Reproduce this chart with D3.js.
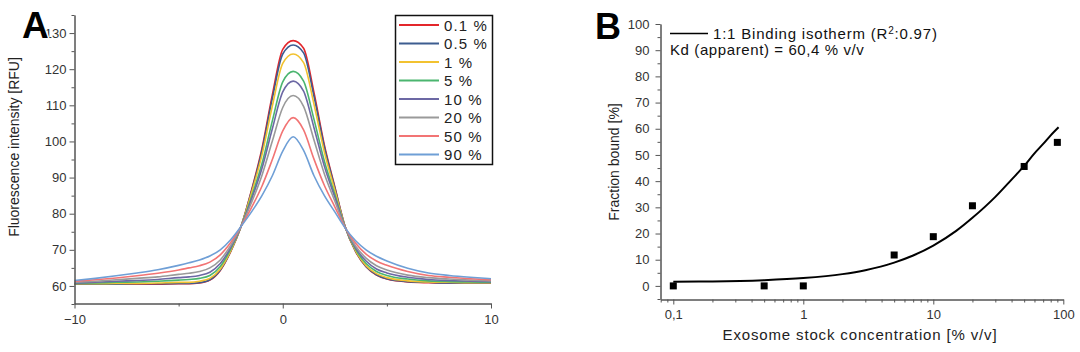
<!DOCTYPE html>
<html>
<head>
<meta charset="utf-8">
<script src="https://cdn.jsdelivr.net/npm/d3@7"></script>
<style>
  html, body { margin: 0; padding: 0; background: #fff; }
  svg { display: block; font-family: "Liberation Sans", Arial, sans-serif; }
  .tick text { fill: #333; font-size: 13px; }
  .domain, .tick line { stroke: #555; }
</style>
</head>
<body>
<svg id="chart" width="1080" height="352"></svg>
<script>
// ---------- Panel A data ----------
const posA = [-10, -9, -8, -7, -6, -5, -4.5, -4, -3.5, -3, -2.5, -2, -1.5, -1, -0.5, 0, 0.5, 1, 1.5, 2, 2.5, 3, 3.5, 4, 4.5, 5, 6, 7, 8, 9, 10];
const s0_1 = [60.5, 60.5, 60.5, 60.5, 60.5, 60.6, 60.6, 60.8, 61.6, 64.3, 69.5, 76.5, 86.5, 98.0, 112.9, 125.5, 127.9, 125.8, 113.5, 99.0, 87.5, 76.3, 69.5, 65.3, 63.0, 61.9, 61.1, 60.9, 60.8, 60.8, 60.8];
const s0_5 = [60.5, 60.5, 60.5, 60.6, 60.6, 60.7, 60.7, 60.9, 61.7, 64.4, 69.6, 76.5, 86.2, 97.4, 111.9, 124.2, 126.7, 124.5, 112.5, 98.4, 87.2, 76.3, 69.6, 65.4, 63.1, 62.0, 61.2, 61.0, 60.8, 60.8, 60.8];
const s1   = [60.6, 60.6, 60.7, 60.7, 60.8, 61.0, 61.0, 61.3, 62.1, 64.7, 69.7, 76.5, 85.7, 96.2, 109.8, 121.6, 124.2, 121.8, 110.3, 97.0, 86.5, 76.3, 69.7, 65.6, 63.4, 62.3, 61.4, 61.1, 61.0, 60.9, 60.9];
const s5   = [60.7, 60.8, 61.0, 61.1, 61.3, 61.6, 61.8, 62.1, 62.9, 65.4, 70.2, 76.5, 84.6, 93.8, 105.7, 116.5, 119.4, 116.7, 106.1, 94.5, 85.3, 76.2, 70.1, 66.2, 64.0, 62.9, 61.9, 61.4, 61.2, 61.1, 61.0];
const s10  = [60.8, 61.0, 61.3, 61.5, 61.8, 62.3, 62.5, 62.9, 63.8, 66.2, 70.6, 76.5, 84.0, 92.5, 103.5, 113.7, 116.7, 113.9, 103.8, 93.1, 84.6, 76.2, 70.5, 66.9, 64.7, 63.6, 62.4, 61.8, 61.5, 61.3, 61.2];
const s20  = [61.0, 61.3, 61.7, 62.1, 62.5, 63.2, 63.5, 64.0, 65.0, 67.2, 71.2, 76.5, 83.1, 90.6, 100.1, 109.4, 112.7, 109.7, 100.4, 91.0, 83.5, 76.1, 71.0, 67.7, 65.6, 64.4, 63.0, 62.3, 61.9, 61.6, 61.4];
const s50  = [61.3, 61.7, 62.2, 62.8, 63.5, 64.4, 65.0, 65.6, 66.6, 68.6, 72.0, 76.5, 81.7, 87.6, 95.0, 102.9, 106.6, 103.2, 95.1, 87.8, 81.9, 76.1, 71.8, 68.8, 66.9, 65.7, 64.0, 62.9, 62.4, 62.0, 61.7];
const s90  = [61.5, 62.1, 62.8, 63.6, 64.5, 65.7, 66.4, 67.2, 68.3, 70.0, 72.8, 76.5, 80.5, 85.0, 90.5, 97.3, 101.3, 97.5, 90.5, 85.0, 80.5, 76.0, 72.5, 70.0, 68.2, 66.9, 64.9, 63.6, 62.9, 62.4, 62.0];
const seriesA = [s0_1, s0_5, s1, s5, s10, s20, s50, s90];
const labelsA = ["0.1 %", "0.5 %", "1 %", "5 %", "10 %", "20 %", "50 %", "90 %"];
const colorsA = ["#e3262b", "#3d5d90", "#f2c230", "#4bb56f", "#6c68a4", "#9a9a9a", "#f27474", "#6f9fd6"];
const yTicksA = [60, 70, 80, 90, 100, 110, 120, 130];
const yMinorA = [55, 65, 75, 85, 95, 105, 115, 125, 135];
const xTicksA = [-10, 0, 10];
const xMinorA = [-5, 5];

// ---------- Panel B data ----------
const concB = [0.1, 0.5, 1, 5, 10, 20, 50, 90];
const boundB = [0, 0, 0, 11.8, 18.8, 30.6, 45.6, 54.8];
const fitX = [0.1, 0.2, 0.5, 1, 2, 3, 5, 7, 10, 15, 20, 30, 40, 50, 60, 70, 80, 92];
const fitY = [1.6, 1.7, 2.2, 3.0, 4.5, 6.0, 8.9, 11.6, 15.4, 21.0, 26.0, 34.0, 40.6, 45.8, 50.6, 54.2, 57.5, 60.6];
const yTicksB = [0, 10, 20, 30, 40, 50, 60, 70, 80, 90, 100];
const yMinorB = [-5, 5, 15, 25, 35, 45, 55, 65, 75, 85, 95];
const xTicksB = [0.1, 1, 10, 100];
const xTickLabelsB = ["0,1", "1", "10", "100"];
const xMinorB = [0.08, 0.09, 0.2, 0.3, 0.4, 0.5, 0.6, 0.7, 0.8, 0.9, 2, 3, 4, 5, 6, 7, 8, 9, 20, 30, 40, 50, 60, 70, 80, 90];

const svg = d3.select("#chart");
svg.append("rect").attr("width", 1080).attr("height", 352).attr("fill", "#fff");

// ================= Panel A =================
const xA = d3.scaleLinear().domain([-10, 10]).range([74.5, 491]);
const yA = d3.scaleLinear().domain([55, 135]).range([304, 15]);
const gA = svg.append("g");

const lineA = d3.line().x((d, i) => xA(posA[i])).y(d => yA(d)).curve(d3.curveMonotoneX);
gA.append("g").selectAll("path").data(seriesA).join("path")
  .attr("d", d => lineA(d))
  .attr("fill", "none")
  .attr("stroke", (d, i) => colorsA[i])
  .attr("stroke-width", 1.6);

gA.append("g").attr("transform", "translate(74.5,0)")
  .call(d3.axisLeft(yA).tickValues(yMinorA).tickSize(3).tickFormat("").tickSizeOuter(0));
gA.append("g").attr("transform", "translate(74.5,0)")
  .call(d3.axisLeft(yA).tickValues(yTicksA).tickSize(5).tickPadding(3).tickSizeOuter(0));
gA.append("g").attr("transform", "translate(0,303.5)")
  .call(d3.axisBottom(xA).tickValues(xMinorA).tickSize(3).tickFormat("").tickSizeOuter(0));
gA.append("g").attr("transform", "translate(0,303.5)")
  .call(d3.axisBottom(xA).tickValues(xTicksA).tickSize(5).tickPadding(6).tickSizeOuter(0));

gA.append("text")
  .attr("transform", "translate(19,147) rotate(-90)")
  .attr("text-anchor", "middle")
  .attr("font-size", 14)
  .attr("fill", "#222")
  .text("Fluorescence intensity [RFU]");

// legend A
const legA = gA.append("g");
legA.append("rect").attr("x", 395.5).attr("y", 15.5).attr("width", 97).attr("height", 149)
  .attr("fill", "#fff").attr("stroke", "#111").attr("stroke-width", 1.5);
labelsA.forEach((lab, i) => {
  const yy = 25 + i * 18.5;
  legA.append("line").attr("x1", 399).attr("x2", 439).attr("y1", yy).attr("y2", yy)
    .attr("stroke", colorsA[i]).attr("stroke-width", 2);
  legA.append("text").attr("x", 444).attr("y", yy + 5.5)
    .attr("font-size", 15).attr("letter-spacing", 1.1).attr("fill", "#222").text(lab);
});

svg.append("text").attr("x", 22).attr("y", 38)
  .attr("font-size", 37).attr("font-weight", "bold").attr("fill", "#000")
  .attr("stroke", "#fff").attr("stroke-width", 3).attr("paint-order", "stroke")
  .text("A");

// ================= Panel B =================
const xB = d3.scaleLog().domain([0.08, 100]).range([660.7, 1063.3]);
const yB = d3.scaleLinear().domain([-5, 100]).range([299, 24]);
const gB = svg.append("g");

gB.append("g").attr("transform", "translate(660.5,0)")
  .call(d3.axisLeft(yB).tickValues(yMinorB).tickSize(3).tickFormat("").tickSizeOuter(0));
gB.append("g").attr("transform", "translate(660.5,0)")
  .call(d3.axisLeft(yB).tickValues(yTicksB).tickSize(5).tickPadding(6).tickSizeOuter(0));
gB.append("g").attr("transform", "translate(0,299.5)")
  .call(d3.axisBottom(xB).tickValues(xMinorB).tickSize(3).tickFormat("").tickSizeOuter(0));
gB.append("g").attr("transform", "translate(0,299.5)")
  .call(d3.axisBottom(xB).tickValues(xTicksB).tickSize(5).tickPadding(5).tickSizeOuter(0)
    .tickFormat((d, i) => xTickLabelsB[i]));

const lineB = d3.line().x((d, i) => xB(fitX[i])).y(d => yB(d)).curve(d3.curveMonotoneX);
gB.append("path").attr("d", lineB(fitY)).attr("fill", "none")
  .attr("stroke", "#000").attr("stroke-width", 2);

gB.append("g").selectAll("rect").data(boundB).join("rect")
  .attr("x", (d, i) => xB(concB[i]) - 3.5)
  .attr("y", d => yB(d) - 3.5)
  .attr("width", 7).attr("height", 7).attr("fill", "#000");

gB.append("text")
  .attr("transform", "translate(619,162) rotate(-90)")
  .attr("text-anchor", "middle").attr("font-size", 14).attr("fill", "#222")
  .text("Fraction bound [%]");
gB.append("text")
  .attr("x", 860).attr("y", 340).attr("text-anchor", "middle")
  .attr("font-size", 15).attr("letter-spacing", 0.85).attr("fill", "#222")
  .text("Exosome stock concentration [% v/v]");

// legend B
gB.append("line").attr("x1", 670).attr("x2", 708).attr("y1", 33.5).attr("y2", 33.5)
  .attr("stroke", "#000").attr("stroke-width", 1.5);
const t1 = gB.append("text").attr("x", 713).attr("y", 38.5).attr("font-size", 15)
  .attr("letter-spacing", 0.8).attr("fill", "#111");
t1.append("tspan").text("1:1 Binding isotherm (R");
t1.append("tspan").attr("font-size", 10).attr("dy", -5).text("2");
t1.append("tspan").attr("dy", 5).text(":0.97)");
gB.append("text").attr("x", 670).attr("y", 55).attr("font-size", 15)
  .attr("letter-spacing", 0.6).attr("fill", "#111")
  .text("Kd (apparent) = 60,4 % v/v");

svg.append("text").attr("x", 595).attr("y", 39)
  .attr("font-size", 36).attr("font-weight", "bold").attr("fill", "#000")
  .text("B");
</script>
</body>
</html>
